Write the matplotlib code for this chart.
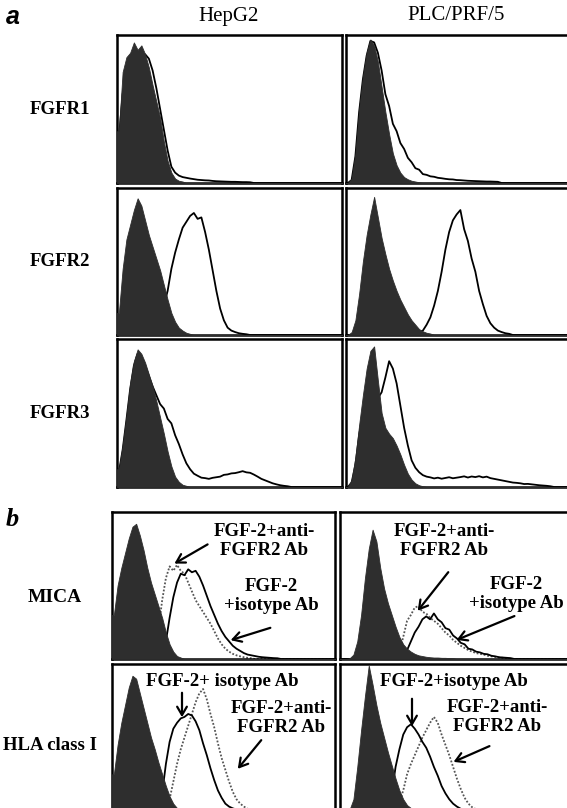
import numpy as np
import matplotlib
matplotlib.use('Agg')
import matplotlib.pyplot as plt

W, H = 567, 808
NB = 60  # histogram bins across each panel

# ---- data: histogram heights (fraction of panel height), bin i at (i+0.5)/NB ----
# panel a: isotype (filled) and anti-FGFR (outline)
hep_r1_iso = [0.35, 0.75, 0.85, 0.88, 0.95, 0.9, 0.93, 0.87, 0.78, 0.66, 0.55, 0.44, 0.28,
              0.15, 0.07, 0.03, 0.015, 0.01]
hep_r1_ab = [0.3, 0.6, 0.72, 0.78, 0.82, 0.86, 0.84, 0.87, 0.84, 0.76, 0.64, 0.5, 0.36, 0.22,
             0.11, 0.07, 0.05, 0.04, 0.035, 0.03, 0.026, 0.022, 0.02, 0.018, 0.017, 0.014,
             0.012, 0.011, 0.01, 0.009, 0.008, 0.008, 0.007, 0.006, 0.006, 0.005]
plc_r1_iso = [0.0, 0.03, 0.2, 0.5, 0.72, 0.88, 0.97, 0.93, 0.82, 0.65, 0.48, 0.33, 0.2, 0.12,
              0.07, 0.04, 0.025, 0.015, 0.01, 0.005]
plc_r1_ab = [0.0, 0.02, 0.18, 0.48, 0.7, 0.86, 0.96, 0.95, 0.88, 0.76, 0.6, 0.52, 0.4, 0.35,
             0.27, 0.23, 0.17, 0.14, 0.1, 0.09, 0.06, 0.055, 0.045, 0.042, 0.035, 0.032, 0.028,
             0.025, 0.024, 0.02, 0.019, 0.017, 0.015, 0.014, 0.013, 0.012, 0.011, 0.01,
             0.01, 0.009, 0.008]

hep_r2_iso = [0.15, 0.45, 0.65, 0.75, 0.85, 0.93, 0.88, 0.78, 0.68, 0.6, 0.52, 0.44, 0.34,
              0.24, 0.15, 0.09, 0.05, 0.03, 0.015, 0.008]
hep_r2_ab = [0.02, 0.03, 0.04, 0.05, 0.06, 0.07, 0.08, 0.09, 0.1, 0.11, 0.13, 0.16, 0.2, 0.3,
             0.45, 0.56, 0.65, 0.73, 0.77, 0.81, 0.83, 0.79, 0.8, 0.7, 0.58, 0.44, 0.3, 0.18,
             0.1, 0.05, 0.03, 0.02, 0.012, 0.008, 0.005]
plc_r2_iso = [0.0, 0.02, 0.1, 0.28, 0.5, 0.68, 0.82, 0.94, 0.8, 0.66, 0.55, 0.45, 0.37, 0.3,
              0.24, 0.19, 0.14, 0.1, 0.07, 0.04, 0.025, 0.015, 0.01]
plc_r2_ab = [0.0, 0.0, 0.005, 0.01, 0.01, 0.01, 0.01, 0.01, 0.01, 0.01, 0.01, 0.01, 0.01,
             0.01, 0.01, 0.01, 0.01, 0.012, 0.015, 0.02, 0.03, 0.07, 0.12, 0.2, 0.3, 0.43,
             0.58, 0.7, 0.78, 0.82, 0.85, 0.72, 0.64, 0.52, 0.43, 0.3, 0.21, 0.13, 0.08, 0.05,
             0.03, 0.02, 0.012, 0.008]

hep_r3_iso = [0.12, 0.28, 0.48, 0.7, 0.85, 0.93, 0.9, 0.84, 0.76, 0.68, 0.58, 0.47, 0.36,
              0.24, 0.14, 0.07, 0.035, 0.015, 0.008]
hep_r3_ab = [0.1, 0.25, 0.45, 0.66, 0.82, 0.9, 0.88, 0.82, 0.75, 0.68, 0.62, 0.56, 0.53, 0.46,
             0.43, 0.35, 0.29, 0.22, 0.16, 0.12, 0.09, 0.076, 0.063, 0.06, 0.055, 0.062, 0.066,
             0.07, 0.082, 0.085, 0.092, 0.094, 0.1, 0.107, 0.099, 0.096, 0.084, 0.07, 0.055,
             0.045, 0.035, 0.025, 0.018, 0.012, 0.008, 0.005]
plc_r3_iso = [0.0, 0.05, 0.2, 0.42, 0.62, 0.8, 0.92, 0.95, 0.72, 0.5, 0.4, 0.36, 0.33, 0.28,
              0.22, 0.15, 0.09, 0.05, 0.025, 0.012, 0.005]
plc_r3_ab = [0.0, 0.03, 0.15, 0.35, 0.5, 0.62, 0.7, 0.68, 0.6, 0.64, 0.74, 0.85, 0.8, 0.7,
             0.55, 0.4, 0.28, 0.18, 0.13, 0.1, 0.08, 0.07, 0.065, 0.058, 0.063, 0.056, 0.061,
             0.066, 0.059, 0.063, 0.067, 0.072, 0.064, 0.071, 0.067, 0.073, 0.065, 0.07, 0.06,
             0.055, 0.05, 0.045, 0.04, 0.035, 0.03, 0.028, 0.025, 0.02, 0.021, 0.018, 0.015,
             0.012, 0.01, 0.008, 0.005]

# panel b: isotype control (filled), FGF-2+isotype Ab (solid), FGF-2+anti-FGFR2 Ab (dotted)
hep_mica_ctl = [0.3, 0.5, 0.62, 0.72, 0.82, 0.9, 0.92, 0.84, 0.74, 0.62, 0.52, 0.44, 0.36,
                0.28, 0.18, 0.1, 0.05, 0.02, 0.01]
hep_mica_iso = [0.0, 0.0, 0.0, 0.0, 0.0, 0.0, 0.0, 0.01, 0.01, 0.01, 0.01, 0.01, 0.02, 0.04,
                0.12, 0.28, 0.42, 0.52, 0.58, 0.57, 0.61, 0.59, 0.6, 0.56, 0.5, 0.43, 0.36,
                0.3, 0.24, 0.19, 0.15, 0.12, 0.09, 0.07, 0.055, 0.04, 0.03, 0.025, 0.02, 0.015,
                0.012, 0.01, 0.008, 0.006, 0.005]
hep_mica_anti = [0.0, 0.0, 0.0, 0.0, 0.0, 0.0, 0.0, 0.01, 0.01, 0.02, 0.03, 0.08, 0.2, 0.4,
                 0.55, 0.63, 0.6, 0.64, 0.6, 0.58, 0.52, 0.46, 0.4, 0.36, 0.32, 0.28, 0.24,
                 0.19, 0.14, 0.1, 0.07, 0.05, 0.035, 0.025, 0.018, 0.012, 0.008, 0.005]
plc_mica_ctl = [0.0, 0.0, 0.005, 0.03, 0.12, 0.3, 0.55, 0.75, 0.88, 0.8, 0.62, 0.48, 0.38,
                0.3, 0.22, 0.15, 0.1, 0.07, 0.05, 0.035, 0.025, 0.02, 0.015, 0.012, 0.01,
                0.01, 0.008, 0.008, 0.006, 0.005]
plc_mica_iso = [0.0, 0.0, 0.0, 0.0, 0.0, 0.0, 0.0, 0.0, 0.0, 0.0, 0.0, 0.0, 0.0, 0.0, 0.0,
                0.0, 0.02, 0.06, 0.12, 0.18, 0.22, 0.27, 0.29, 0.27, 0.31, 0.27, 0.25, 0.21,
                0.2, 0.16, 0.14, 0.11, 0.1, 0.07, 0.065, 0.05, 0.045, 0.035, 0.032, 0.022,
                0.018, 0.012, 0.01, 0.008, 0.006]
plc_mica_anti = [0.0, 0.0, 0.0, 0.0, 0.0, 0.0, 0.0, 0.0, 0.0, 0.0, 0.0, 0.0, 0.0, 0.0, 0.0,
                 0.05, 0.15, 0.26, 0.3, 0.35, 0.36, 0.32, 0.31, 0.28, 0.26, 0.24, 0.21, 0.18,
                 0.16, 0.13, 0.11, 0.09, 0.075, 0.06, 0.05, 0.04, 0.035, 0.03, 0.022, 0.018,
                 0.014, 0.01, 0.008, 0.006]

hep_hla_ctl = [0.25, 0.45, 0.6, 0.72, 0.84, 0.92, 0.9, 0.8, 0.7, 0.6, 0.5, 0.42, 0.33, 0.25,
               0.17, 0.1, 0.05, 0.02, 0.01]
hep_hla_iso = [0.0, 0.0, 0.0, 0.0, 0.0, 0.0, 0.0, 0.0, 0.0, 0.0, 0.0, 0.01, 0.04, 0.12, 0.32,
               0.47, 0.56, 0.6, 0.63, 0.64, 0.66, 0.65, 0.61, 0.55, 0.46, 0.38, 0.29, 0.21,
               0.14, 0.09, 0.05, 0.03, 0.018, 0.01, 0.006]
hep_hla_anti = [0.0, 0.0, 0.0, 0.0, 0.0, 0.0, 0.0, 0.0, 0.0, 0.0, 0.0, 0.0, 0.0, 0.0, 0.02,
                0.08, 0.2, 0.32, 0.42, 0.5, 0.58, 0.66, 0.74, 0.8, 0.83, 0.76, 0.66, 0.57,
                0.46, 0.36, 0.28, 0.2, 0.13, 0.08, 0.05, 0.03, 0.015, 0.008]
plc_hla_ctl = [0.0, 0.0, 0.01, 0.08, 0.3, 0.55, 0.78, 0.99, 0.86, 0.72, 0.6, 0.5, 0.4, 0.31,
               0.22, 0.14, 0.08, 0.04, 0.02, 0.01]
plc_hla_iso = [0.0, 0.0, 0.0, 0.0, 0.0, 0.0, 0.0, 0.0, 0.0, 0.0, 0.0, 0.01, 0.04, 0.12, 0.3,
               0.42, 0.52, 0.57, 0.59, 0.56, 0.52, 0.47, 0.43, 0.37, 0.3, 0.24, 0.17, 0.12,
               0.08, 0.05, 0.03, 0.015, 0.008]
plc_hla_anti = [0.0, 0.0, 0.0, 0.0, 0.0, 0.0, 0.0, 0.0, 0.0, 0.0, 0.0, 0.0, 0.0, 0.0, 0.02,
                0.06, 0.14, 0.25, 0.32, 0.38, 0.44, 0.5, 0.55, 0.6, 0.64, 0.6, 0.52, 0.45,
                0.38, 0.3, 0.22, 0.15, 0.09, 0.05, 0.025, 0.012, 0.006]

col_labels = ['HepG2', 'PLC/PRF/5']
rows_a = ['FGFR1', 'FGFR2', 'FGFR3']
rows_b = ['MICA', 'HLA class I']

SERIF = ['Liberation Serif', 'DejaVu Serif']
FILL = '#2e2e2e'

fig = plt.figure(figsize=(W / 100, H / 100), dpi=100)
fig.patch.set_facecolor('white')


def px_axes(x0, y0, x1, y1):
    ax = fig.add_axes([x0 / W, 1 - y1 / H, (x1 - x0) / W, (y1 - y0) / H])
    ax.set_xlim(0, 1)
    ax.set_ylim(0, 1.0)
    ax.set_xticks([])
    ax.set_yticks([])
    for s in ax.spines.values():
        s.set_linewidth(1.8)
        s.set_color('black')
    return ax


def curve(v):
    # bin centres, closed at the left panel edge and dropped to 0 after the last bin
    x = (np.arange(len(v)) + 0.5) / NB
    x = np.concatenate([[0.0], x, [(len(v) + 0.5) / NB, 1.0]])
    y = np.concatenate([[v[0]], v, [0.0, 0.0]])
    return x, y


def draw_outline(ax, v, dotted=False):
    x, y = curve(v)
    if dotted:
        ax.plot(x, y, color='#555555', lw=1.3, ls=(0, (1, 1)), zorder=2)
    else:
        ax.plot(x, y, color='black', lw=1.3, zorder=3)


def draw_filled(ax, v):
    x, y = curve(v)
    ax.fill_between(x, 0, y, color=FILL, lw=0.6, zorder=4)


def px_text(x, y, s, **kw):
    fig.text(x / W, 1 - y / H, s, **kw)


def px_arrow(x0, y0, x1, y1):
    fig.add_artist(matplotlib.patches.FancyArrowPatch(
        (x0 / W, 1 - y0 / H), (x1 / W, 1 - y1 / H), transform=fig.transFigure,
        arrowstyle='->,head_length=6,head_width=3.5', lw=1.6, color='black',
        mutation_scale=1, zorder=10))


# ---------------- panel a ----------------
cols_a = [(117, 342), (346, 571)]
rows_a_px = [(35, 183), (188, 335), (339, 487)]
data_a = [
    [(hep_r1_iso, hep_r1_ab), (plc_r1_iso, plc_r1_ab)],
    [(hep_r2_iso, hep_r2_ab), (plc_r2_iso, plc_r2_ab)],
    [(hep_r3_iso, hep_r3_ab), (plc_r3_iso, plc_r3_ab)],
]
for r, (y0, y1) in enumerate(rows_a_px):
    for c, (x0, x1) in enumerate(cols_a):
        ax = px_axes(x0, y0, x1, y1)
        iso, ab = data_a[r][c]
        draw_outline(ax, ab)
        draw_filled(ax, iso)
    px_text(60, (y0 + y1) / 2, rows_a[r], family=SERIF, fontsize=13.5, fontweight='bold',
            ha='center', va='center')

px_text(229, 16, col_labels[0], family=SERIF, fontsize=15, ha='center', va='center')
px_text(456, 16, col_labels[1], family=SERIF, fontsize=15, ha='center', va='center')
px_text(6, 17, 'a', family=['Liberation Sans', 'DejaVu Sans'], fontsize=18,
        fontweight='bold', style='italic', ha='left', va='center')
px_text(6, 520, 'b', family=SERIF, fontsize=19, fontweight='bold', style='italic',
        ha='left', va='center')

# ---------------- panel b ----------------
cols_b = [(112, 335), (340, 570)]
rows_b_px = [(512, 659), (664, 811)]
data_b = [
    [(hep_mica_ctl, hep_mica_iso, hep_mica_anti), (plc_mica_ctl, plc_mica_iso, plc_mica_anti)],
    [(hep_hla_ctl, hep_hla_iso, hep_hla_anti), (plc_hla_ctl, plc_hla_iso, plc_hla_anti)],
]
for r, (y0, y1) in enumerate(rows_b_px):
    for c, (x0, x1) in enumerate(cols_b):
        ax = px_axes(x0, y0, x1, y1)
        ctl, iso, anti = data_b[r][c]
        draw_outline(ax, anti, dotted=True)
        draw_outline(ax, iso)
        draw_filled(ax, ctl)

px_text(55, 597, rows_b[0], family=SERIF, fontsize=14, fontweight='bold',
        ha='center', va='center')
px_text(3, 745, rows_b[1], family=SERIF, fontsize=13.5, fontweight='bold',
        ha='left', va='center')

ann = dict(family=SERIF, fontsize=13.5, fontweight='bold', ha='center', va='center',
           linespacing=1.2, zorder=11)
# MICA HepG2
px_text(264, 541, 'FGF-2+anti-\nFGFR2 Ab', **ann)
px_text(271, 596, 'FGF-2\n+isotype Ab', **ann)
px_arrow(210, 543, 172, 565)
px_arrow(273, 627, 228, 641)
# MICA PLC
px_text(444, 541, 'FGF-2+anti-\nFGFR2 Ab', **ann)
px_text(516, 594, 'FGF-2\n+isotype Ab', **ann)
px_arrow(450, 570, 416, 613)
px_arrow(517, 615, 454, 641)
# HLA HepG2
px_text(222, 682, 'FGF-2+ isotype Ab', **ann)
px_text(281, 718, 'FGF-2+anti-\nFGFR2 Ab', **ann)
px_arrow(182, 690, 182, 720)
px_arrow(263, 738, 236, 771)
# HLA PLC
px_text(454, 682, 'FGF-2+isotype Ab', **ann)
px_text(497, 717, 'FGF-2+anti-\nFGFR2 Ab', **ann)
px_arrow(412, 696, 412, 729)
px_arrow(492, 745, 451, 763)

fig.savefig('out.png', dpi=100, facecolor='white')
